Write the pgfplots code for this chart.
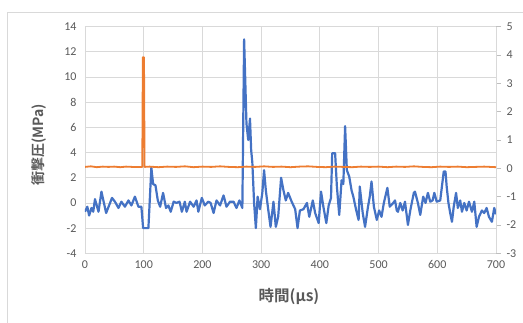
\documentclass[border=0pt]{standalone}
\usepackage{pgfplots}
\pgfplotsset{compat=1.18}
\usepackage{fontspec}
\setmainfont{Carlito}
\newfontfamily\cjk{Noto Sans CJK JP}[BoldFont={Noto Sans CJK JP Bold}]
\definecolor{exblue}{HTML}{4472C4}
\definecolor{exorange}{HTML}{ED7D31}
\definecolor{gridgray}{HTML}{D9D9D9}
\definecolor{txtgray}{HTML}{595959}
\definecolor{axgray}{HTML}{BFBFBF}
\begin{document}
\begin{tikzpicture}[x=1pt,y=1pt]
\useasboundingbox (0,0) rectangle (523,323);
\draw[gridgray, line width=0.8pt] (7,-5) -- (7,311) -- (530,311);
\begin{axis}[
  at={(85pt,69.7pt)}, anchor=south west,
  scale only axis, width=411pt, height=226.6pt,
  xmin=0, xmax=700, ymin=-4, ymax=14,
  xtick={0,100,...,700}, ytick={-4,-2,...,14},
  grid=major, major grid style={draw=gridgray, line width=0.8pt},
  axis line style={draw=gridgray, line width=0.8pt},
  tick style={draw=none},
  ticklabel style={font=\fontsize{12}{14}\selectfont, text=txtgray},
  /pgf/number format/assume math mode=true,
  xticklabel style={yshift=-4pt},
  yticklabel style={xshift=-5pt},
]
\addplot[exblue, line width=2.2pt, line join=round] coordinates {
(0,-0.7)(4,-0.3)(7,-1.0)(11,-0.4)(14,-0.7)(17,0.3)(23,-0.7)(28,0.9)(36,-0.8)(46,0.4)
(51,0.1)(57,-0.4)(62,0.1)(68,-0.3)(74,0.2)(79,-0.2)(85,0.5)(91,-0.3)(96,-0.3)(99,-2.0)
(108,-2.0)(113,2.8)(116,1.5)(120,1.4)(124,0.2)(128,-0.3)(133,0.8)(138,-0.4)(142,-0.2)(146,-0.7)
(151,0.1)(156,0.0)(161,0.1)(165,-0.7)(170,0.1)(173,-0.7)(179,0.1)(185,-0.3)(190,0.2)(193,-0.7)
(199,0.4)(204,-0.2)(210,0.1)(214,0.0)(219,-0.8)(224,0.2)(230,-0.2)(236,0.6)(241,-0.3)(247,0.1)
(253,0.1)(258,-0.4)(263,0.2)(268,-0.4)(271,13.0)(275,6.3)(278,5.0)(281,6.7)(283,4.2)(285,3.2)
(288,0.0)(291,-2.0)(294,0.5)(298,-0.5)(302,0.8)(305,2.6)(308,1.0)(312,-0.5)(316,-1.9)(321,0.1)
(325,-1.9)(329,-1.1)(334,2.0)(338,1.0)(342,0.2)(346,0.8)(352,0.1)(358,-0.5)(362,-2.0)(366,-0.6)
(372,-0.5)(378,0.0)(382,-1.1)(388,0.2)(392,-0.8)(398,-1.6)(402,0.9)(406,-0.3)(411,-1.6)(415,-0.2)
(419,0.4)(421,3.95)(426,3.95)(429,1.3)(433,-0.95)(437,1.8)(440,1.5)(443,6.1)(446,2.6)(450,2.1)
(454,1.0)(457,0.5)(462,-0.6)(466,-1.35)(468,1.3)(473,-0.8)(477,-1.9)(482,-0.3)(485,0.5)(488,1.7)
(492,-0.3)(497,-1.35)(501,-0.6)(505,-1.1)(509,0.0)(515,1.2)(519,-0.3)(525,0.0)(528,0.2)(531,-0.6)
(533,-0.7)(537,0.0)(541,-0.6)(545,0.1)(550,-1.75)(554,-0.6)(560,0.8)(562,0.9)(567,0.0)(571,-0.95)
(576,0.5)(580,0.0)(584,0.8)(588,0.1)(592,0.2)(595,0.8)(599,0.1)(605,0.2)(611,2.5)(614,2.5)
(616,1.3)(619,0.0)(622,-0.8)(625,-1.5)(628,-0.3)(632,0.8)(635,-0.4)(639,0.2)(642,-0.7)(646,0.0)
(650,-0.6)(654,0.1)(659,-0.7)(663,0.1)(667,-1.9)(671,-1.1)(676,-0.6)(680,-0.8)(684,-0.4)(688,-1.1)
(693,-1.5)(697,-0.4)(700,-0.9)
};
\end{axis}
\begin{axis}[
  at={(85pt,69.7pt)}, anchor=south west,
  scale only axis, width=411pt, height=226.6pt,
  xmin=0, xmax=700, ymin=-3, ymax=5,
  ytick={-3,-2,...,5},
  axis x line=none, axis y line*=right,
  axis line style={draw=gridgray, line width=0.8pt},
  ytick style={draw=axgray, line width=0.8pt},
  major tick length=5pt, tick align=outside,
  ticklabel style={font=\fontsize{12}{14}\selectfont, text=txtgray},
  /pgf/number format/assume math mode=true,
  yticklabel style={xshift=2pt},
]
\addplot[exorange, line width=1.8pt, line join=round] coordinates {
(0,0.05)(10,0.07)(20,0.04)(30,0.06)(40,0.05)(50,0.06)(60,0.04)(70,0.06)(80,0.05)(90,0.05)
(97.5,0.05)(98.5,3.92)(100.5,3.92)(101.5,0.05)(110,0.06)(125,0.04)(140,0.06)(155,0.05)(170,0.07)
(185,0.04)(200,0.06)(215,0.05)(230,0.07)(245,0.05)(260,0.04)(275,0.06)(290,0.05)(305,0.07)
(320,0.05)(335,0.06)(350,0.04)(365,0.06)(380,0.07)(395,0.05)(410,0.04)(425,0.06)(440,0.05)
(455,0.04)(470,0.06)(485,0.05)(500,0.06)(515,0.04)(530,0.06)(545,0.05)(560,0.07)(575,0.05)
(590,0.04)(605,0.06)(620,0.05)(635,0.06)(650,0.04)(665,0.05)(680,0.06)(700,0.04)
};
\end{axis}
\node[rotate=90, text=txtgray, font=\fontsize{14}{16}\selectfont\cjk\bfseries] at (39,178) {衝撃圧(MPa)};
\node[text=txtgray, font=\fontsize{15.5}{17}\selectfont\cjk\bfseries] at (289,27) {時間(µs)};
\end{tikzpicture}
\end{document}
